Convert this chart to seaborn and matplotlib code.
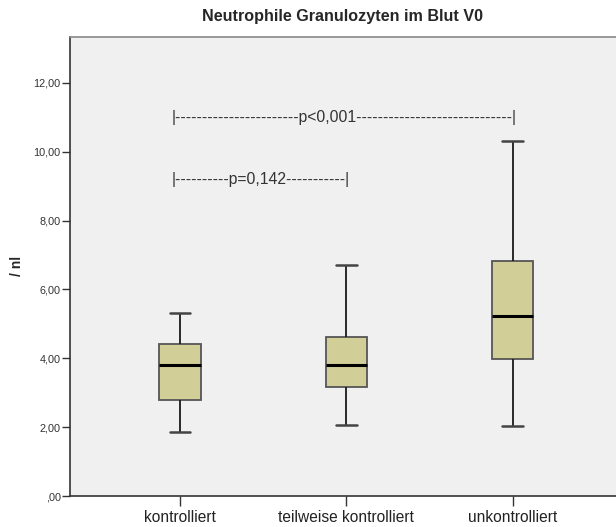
import numpy as np
import pandas as pd
import matplotlib
matplotlib.use("Agg")
import matplotlib.pyplot as plt
import seaborn as sns

categories = ["kontrolliert", "teilweise kontrolliert", "unkontrolliert"]
# five-number summaries: min, Q1, median, Q3, max
whisker_low = [1.86, 2.07, 2.03]
q1 = [2.79, 3.18, 3.98]
median = [3.80, 3.81, 5.23]
q3 = [4.41, 4.62, 6.82]
whisker_high = [5.32, 6.71, 10.31]

yticks = [0, 2, 4, 6, 8, 10, 12]
ytick_labels = [",00", "2,00", "4,00", "6,00", "8,00", "10,00", "12,00"]

title = "Neutrophile Granulozyten im Blut V0"
ylabel = "/ nl"
ann1 = "|" + "-" * 23 + "p<0,001" + "-" * 29 + "|"
ann2 = "|" + "-" * 10 + "p=0,142" + "-" * 11 + "|"

rows = []
for i, c in enumerate(categories):
    for v in (whisker_low[i], q1[i], median[i], q3[i], whisker_high[i]):
        rows.append({"group": c, "value": v})
df = pd.DataFrame(rows)

sns.set_style("white")
plt.rcParams["font.family"] = ["Liberation Sans", "DejaVu Sans"]

W, H = 616, 527
fig = plt.figure(figsize=(W / 100, H / 100), dpi=100)
ax_left, ax_top, ax_bottom = 69.7, 36.7, 496.0
ax = fig.add_axes([ax_left / W, (H - ax_bottom) / H, 1 - ax_left / W, (ax_bottom - ax_top) / H])
ax.set_facecolor("#F0F0F0")

sns.boxplot(data=df, x="group", y="value", order=categories, ax=ax,
            whis=(0, 100), width=0.25, color="#D2CE98", saturation=1,
            linecolor="#222222", linewidth=1.0,
            boxprops=dict(edgecolor="#555555", linewidth=1.3),
            medianprops=dict(color="black", linewidth=2.2),
            whiskerprops=dict(color="#1a1a1a", linewidth=1.3),
            capprops=dict(color="#444444", linewidth=1.8),
            capwidths=0.126, showfliers=False)

ax.set_xlim(-0.663, 2.621)
ax.set_ylim(0, 13.34)
ax.set_yticks(yticks)
ax.set_yticklabels(ytick_labels, fontsize=7.8, color="#333333")
ax.tick_params(axis="y", direction="out", length=6, width=1, color="#333333", pad=0.5, left=True)
ax.tick_params(axis="x", direction="out", length=7, width=1, color="#333333", pad=3,
               labelsize=11.2, labelcolor="#222222", bottom=True)
ax.set_xlabel("")
ax.set_ylabel(ylabel, fontsize=10, fontweight="bold")
ax.yaxis.set_label_coords((17 - ax_left) / (W - ax_left), 0.5)
ax.yaxis.label.set_verticalalignment("center")
ax.set_title(title, fontsize=11.6, fontweight="bold", pad=11)

for side in ["left", "bottom"]:
    ax.spines[side].set_color("#333333")
    ax.spines[side].set_linewidth(1.2)
ax.spines["top"].set_color("#888888")
ax.spines["top"].set_linewidth(1.2)
ax.spines["right"].set_visible(False)

ax.text(-0.048, 10.98, ann1, ha="left", va="center", fontsize=11.3, color="#333333")
ax.text(-0.048, 9.18, ann2, ha="left", va="center", fontsize=11.3, color="#333333")

fig.savefig("out.png", dpi=100, facecolor="white")
